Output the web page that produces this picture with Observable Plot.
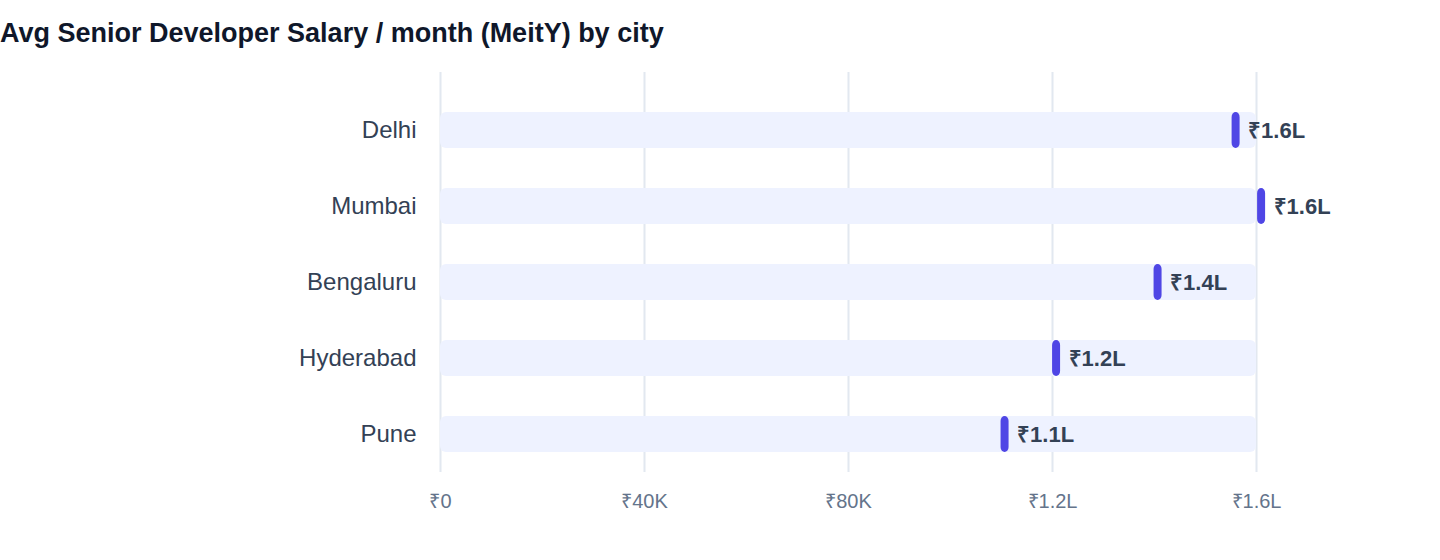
<!DOCTYPE html>
<html>
<head>
<meta charset="utf-8">
<script src="https://cdn.jsdelivr.net/npm/d3@7"></script>
<script src="https://cdn.jsdelivr.net/npm/@observablehq/plot@0.6"></script>
<style>
  html, body { margin: 0; padding: 0; background: #ffffff; }
  #title {
    font-family: "Liberation Sans", Arial, Helvetica, sans-serif;
    font-weight: bold;
    font-size: 27px;
    line-height: 30px;
    color: #0f172a;
    padding-top: 18px;
    height: 42px;
    padding-left: 0px;
    white-space: nowrap;
  }
  svg { display: block; }
</style>
</head>
<body>
<div id="title">Avg Senior Developer Salary / month (MeitY) by city</div>
<div id="chart"></div>
<script>
const cities = ["Delhi", "Mumbai", "Bengaluru", "Hyderabad", "Pune"];
const salaries = [156000, 161000, 140700, 120800, 110700];
const xMax = 160000;
const xTicks = [0, 40000, 80000, 120000, 160000];
const xTickLabels = ["₹0", "₹40K", "₹80K", "₹1.2L", "₹1.6L"];

const data = cities.map((city, i) => ({city, value: salaries[i]}));
const fmtL = v => "₹" + (v / 100000).toFixed(1) + "L";
const tickLabel = v => xTickLabels[xTicks.indexOf(v)];

const chart = Plot.plot({
  width: 1440,
  height: 480,
  marginLeft: 440,
  marginRight: 184,
  marginTop: 12,
  marginBottom: 68,
  style: {fontFamily: "'Liberation Sans', Arial, Helvetica, sans-serif", background: "#ffffff"},
  x: {domain: [0, xMax]},
  y: {domain: cities, range: [32, 412], paddingInner: 0.526, paddingOuter: 0.263},
  marks: [
    Plot.gridX(xTicks, {stroke: "#e2e8f0", strokeWidth: 2, strokeOpacity: 1}),
    Plot.barX(data, {y: "city", x1: () => 0, x2: () => xMax, fill: "#eef2ff", rx: 6}),
    Plot.barX(data, {y: "city", x1: "value", x2: "value", insetLeft: -4, insetRight: -4, rx: 4, ry: 5, fill: "#4f46e5"}),
    Plot.text(data, {x: "value", y: "city", text: d => fmtL(d.value), textAnchor: "start", dx: 12, fontWeight: "bold", fontSize: 22, fill: "#334155"}),
    Plot.axisY({tickSize: 0, tickPadding: 24, fontSize: 24, fill: "#334155", label: null}),
    Plot.axisX({ticks: xTicks, tickFormat: tickLabel, tickSize: 0, tickPadding: 21, fontSize: 20, fill: "#64748b", label: null})
  ]
});
document.getElementById("chart").appendChild(chart);
</script>
</body>
</html>
